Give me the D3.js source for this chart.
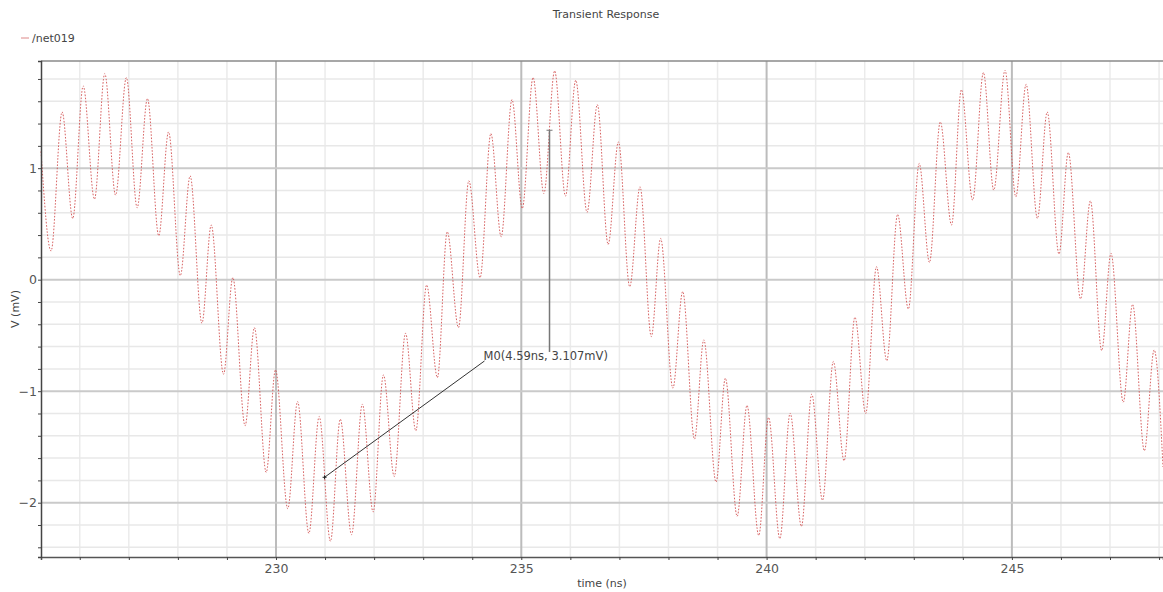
<!DOCTYPE html>
<html>
<head>
<meta charset="utf-8">
<script src="https://cdn.jsdelivr.net/npm/d3@7"></script>
<style>
  html, body { margin: 0; padding: 0; background: #ffffff; }
  svg { display: block; }
  text { font-family: "DejaVu Sans", sans-serif; }
</style>
</head>
<body>
<script>
// Transient response of node /net019: local peaks and troughs (time in ns, value in mV)
const sampleTimes = [
  225.21, 225.415, 225.64, 225.857, 226.07, 226.30, 226.51, 226.73, 226.95, 227.17,
  227.38, 227.61, 227.81, 228.05, 228.25, 228.49, 228.68, 228.93, 229.12, 229.37,
  229.56, 229.80, 229.99, 230.24, 230.44, 230.67, 230.88, 231.11, 231.31, 231.54,
  231.76, 231.98, 232.19, 232.41, 232.64, 232.85, 233.07, 233.29, 233.49, 233.72,
  233.93, 234.16, 234.38, 234.59, 234.81, 235.02, 235.24, 235.46, 235.68, 235.90,
  236.11, 236.34, 236.55, 236.77, 236.98, 237.21, 237.42, 237.65, 237.84, 238.09,
  238.29, 238.53, 238.72, 238.97, 239.16, 239.40, 239.60, 239.84, 240.04, 240.27,
  240.48, 240.71, 240.92, 241.14, 241.36, 241.58, 241.80, 242.02, 242.24, 242.45,
  242.67, 242.89, 243.11, 243.32, 243.54, 243.77, 243.97, 244.20, 244.42, 244.63,
  244.86, 245.08, 245.29, 245.52, 245.72, 245.96, 246.15, 246.40, 246.60, 246.83,
  247.02, 247.27, 247.46, 247.70, 247.90, 248.08
];
const sampleVolts = [
  1.15, 0.257, 1.504, 0.549, 1.737, 0.722, 1.848, 0.758, 1.812, 0.645,
  1.624, 0.394, 1.325, 0.036, 0.931, -0.391, 0.490, -0.848, 0.018, -1.310,
  -0.430, -1.728, -0.809, -2.054, -1.093, -2.275, -1.227, -2.346, -1.251, -2.287,
  -1.116, -2.084, -0.854, -1.764, -0.481, -1.355, -0.048, -0.878, 0.430, -0.430,
  0.887, 0.018, 1.310, 0.385, 1.615, 0.639, 1.812, 0.773, 1.872, 0.749,
  1.788, 0.603, 1.570, 0.316, 1.236, -0.063, 0.833, -0.510, 0.370, -0.973,
  -0.107, -1.430, -0.540, -1.815, -0.884, -2.122, -1.128, -2.293, -1.236, -2.322,
  -1.197, -2.212, -1.027, -1.979, -0.734, -1.624, -0.337, -1.200, 0.116, -0.728,
  0.585, -0.263, 1.042, 0.155, 1.415, 0.490, 1.704, 0.713, 1.857, 0.803,
  1.878, 0.743, 1.752, 0.549, 1.504, 0.230, 1.140, -0.173, 0.707, -0.636,
  0.236, -1.099, -0.221, -1.534, -0.630, -1.68
];

// Axis ranges and labelled ticks
const timeDomain = [225.21, 248.08];
const voltDomain = [-2.487, 1.961];
const timeTicks = [230, 235, 240, 245];
const voltTicks = [-2, -1, 0, 1];

// Marker M0: end points and label anchor (ns, mV)
const markerStart = [230.99, -1.772];
const markerEnd = [235.575, 1.34];
const markerLabelAt = [234.25, -0.729];
const markerLabel = "M0(4.59ns, 3.107mV)";

const chartTitle = "Transient Response";
const seriesName = "/net019";
const xTitle = "time (ns)";
const yTitle = "V (mV)";

const W = 1163, H = 592;
const plot = { left: 41, right: 1163, top: 61, bottom: 557 };

const svg = d3.select("body").append("svg").attr("width", W).attr("height", H);

const x = d3.scaleLinear().domain(timeDomain).range([plot.left, plot.right]);
const y = d3.scaleLinear().domain(voltDomain).range([plot.bottom, plot.top]);

// minor grid: 1 ns and 0.2 mV
const minorX = d3.range(Math.ceil(timeDomain[0]), timeDomain[1], 1);
const minorY = d3.range(-24, 20, 2).map(d => d / 10).filter(v => v > voltDomain[0] && v < voltDomain[1]);

const grid = svg.append("g");
grid.selectAll("line.mx").data(minorX.filter(t => !timeTicks.includes(t))).join("line")
  .attr("x1", d => x(d)).attr("x2", d => x(d)).attr("y1", plot.top).attr("y2", plot.bottom)
  .attr("stroke", "#ebebeb").attr("stroke-width", 1.5);
grid.selectAll("line.my").data(minorY.filter(v => !voltTicks.includes(v))).join("line")
  .attr("x1", plot.left).attr("x2", plot.right).attr("y1", d => y(d)).attr("y2", d => y(d))
  .attr("stroke", "#e8e8e8").attr("stroke-width", 1.5);
grid.selectAll("line.Mx").data(timeTicks).join("line")
  .attr("x1", d => x(d)).attr("x2", d => x(d)).attr("y1", plot.top).attr("y2", plot.bottom)
  .attr("stroke", "#bcbcbc").attr("stroke-width", 2);
grid.selectAll("line.My").data(voltTicks).join("line")
  .attr("x1", plot.left).attr("x2", plot.right).attr("y1", d => y(d)).attr("y2", d => y(d))
  .attr("stroke", "#cacaca").attr("stroke-width", 2);

// frame
svg.append("line").attr("x1", plot.left).attr("x2", plot.right).attr("y1", plot.top).attr("y2", plot.top)
  .attr("stroke", "#8a8a8a").attr("stroke-width", 1.5);

// waveform
const pts = sampleTimes.map((t, i) => [t, sampleVolts[i]]);
const line = d3.line().x(d => x(d[0])).y(d => y(d[1])).curve(d3.curveMonotoneX);
svg.append("path").datum(pts).attr("d", line)
  .attr("fill", "none").attr("stroke", "#d04848").attr("stroke-width", 1)
  .attr("stroke-dasharray", "1.6,1.6").attr("opacity", 0.85);

// axes
const xAxis = d3.axisBottom(x).tickValues(minorX).tickSize(3)
  .tickFormat(d => timeTicks.includes(d) ? d3.format("d")(d) : "");
const gx = svg.append("g").attr("transform", `translate(0,${plot.bottom})`).call(xAxis);
gx.select(".domain").attr("stroke", "#555").attr("stroke-width", 1.5);
gx.selectAll(".tick line").attr("stroke", "#444");
gx.selectAll(".tick text").attr("fill", "#555").attr("font-size", 12.5)
  .attr("font-family", "DejaVu Sans, sans-serif").attr("dy", "0.85em").attr("y", 5);

const yAxis = d3.axisLeft(y).tickValues(minorY).tickSize(3)
  .tickFormat(d => voltTicks.includes(d) ? d3.format("d")(d) : "");
const gy = svg.append("g").attr("transform", `translate(${plot.left},0)`).call(yAxis);
gy.select(".domain").attr("stroke", "#444").attr("stroke-width", 1.5);
gy.selectAll(".tick line").attr("stroke", "#444");
gy.selectAll(".tick text").attr("fill", "#555").attr("font-size", 12.5)
  .attr("font-family", "DejaVu Sans, sans-serif").attr("x", -4);

// marker M0
const [mx0, my0] = [x(markerStart[0]), y(markerStart[1])];
const [mx1, my1] = [x(markerEnd[0]), y(markerEnd[1])];
const [lx, ly] = [x(markerLabelAt[0]), y(markerLabelAt[1])];
svg.append("line").attr("x1", lx).attr("y1", ly).attr("x2", mx0).attr("y2", my0)
  .attr("stroke", "#333").attr("stroke-width", 1);
svg.append("path").attr("d", `M${mx0 - 2},${my0}H${mx0 + 2}M${mx0},${my0 - 2}V${my0 + 2}`)
  .attr("stroke", "#222").attr("stroke-width", 1);
svg.append("line").attr("x1", mx1).attr("x2", mx1).attr("y1", my1).attr("y2", ly - 9)
  .attr("stroke", "#777").attr("stroke-width", 1.5);
svg.append("line").attr("x1", mx1 - 3).attr("x2", mx1 + 3).attr("y1", my1).attr("y2", my1)
  .attr("stroke", "#777").attr("stroke-width", 1);
svg.append("text").attr("x", lx - 1).attr("y", ly - 1).attr("font-size", 11.5).attr("fill", "#444")
  .text(markerLabel);

// title, legend, axis titles
svg.append("text").attr("x", 606).attr("y", 18).attr("text-anchor", "middle")
  .attr("font-size", 11).attr("fill", "#444").text(chartTitle);
svg.append("line").attr("x1", 21).attr("x2", 29).attr("y1", 38).attr("y2", 38)
  .attr("stroke", "#d88").attr("stroke-width", 1);
svg.append("text").attr("x", 32).attr("y", 42).attr("font-size", 11).attr("fill", "#444").text(seriesName);
svg.append("text").attr("x", (plot.left + plot.right) / 2).attr("y", 587).attr("text-anchor", "middle")
  .attr("font-size", 11).attr("fill", "#444").text(xTitle);
svg.append("text").attr("transform", `translate(19,${(plot.top + plot.bottom) / 2}) rotate(-90)`)
  .attr("text-anchor", "middle").attr("font-size", 11).attr("fill", "#444").text(yTitle);
</script>
</body>
</html>
